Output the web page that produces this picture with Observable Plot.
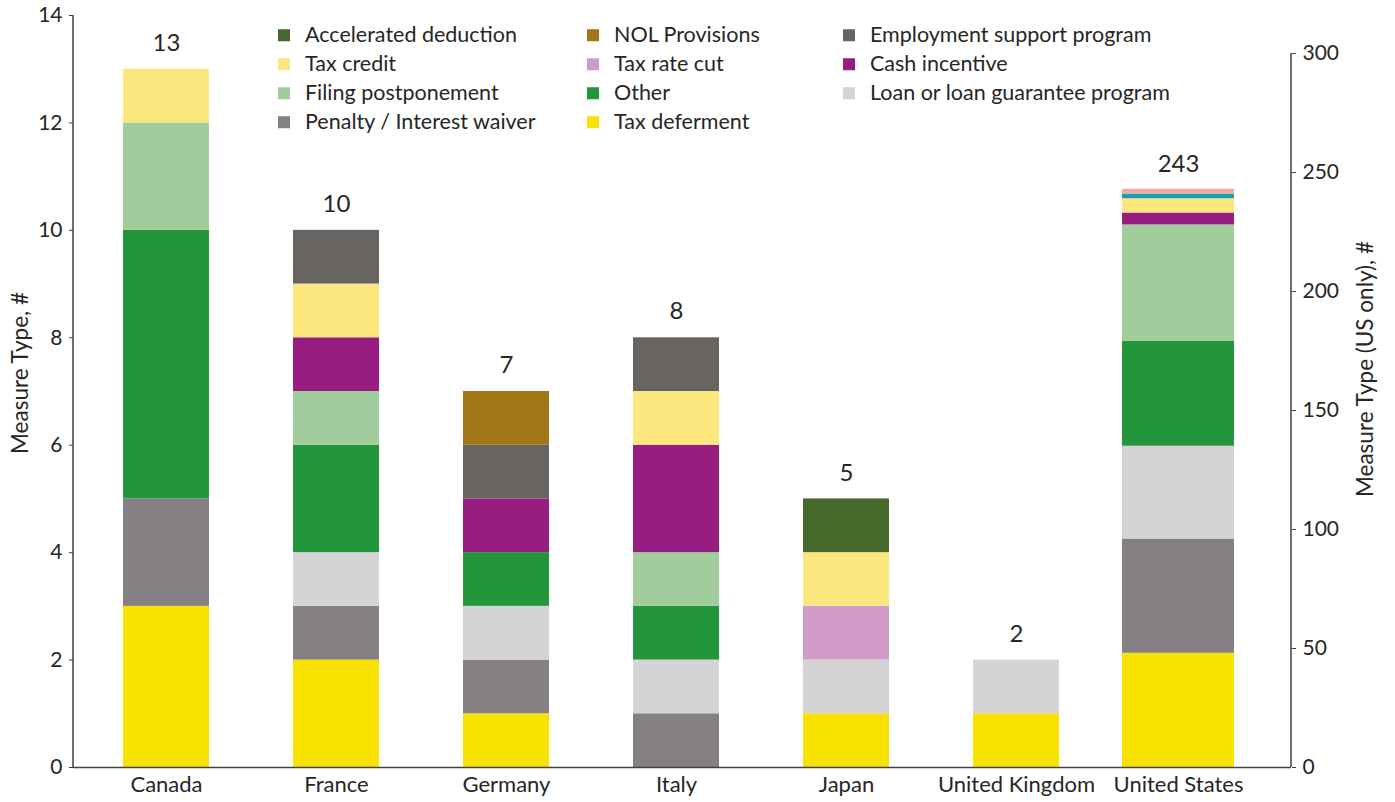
<!DOCTYPE html>
<html><head><meta charset="utf-8">
<script src="https://cdn.jsdelivr.net/npm/d3@7"></script>
<script src="https://cdn.jsdelivr.net/npm/@observablehq/plot@0.6"></script>
<style>
body{margin:0;background:#fff;font-family:Lato,"Open Sans",sans-serif;color:#262626}
#wrap{position:relative;width:1395px;height:802px;overflow:hidden}
.leg{position:absolute;font-size:21.5px;display:flex;align-items:center;white-space:nowrap;line-height:1;transform:translateY(-50%)}
.leg i{display:inline-block;width:12px;height:12px;margin-right:15px;flex:none}
.ytitle{position:absolute;font-size:22.5px;white-space:nowrap;transform:translate(-50%,-50%) rotate(-90deg)}
</style></head><body><div id="wrap"></div>
<script>
// ---- data ----
const countries = ["Canada","France","Germany","Italy","Japan","United Kingdom","United States"];
const types = ["Tax deferment","Penalty / Interest waiver","Loan or loan guarantee program","Other","Filing postponement","Cash incentive","Tax rate cut","Tax credit","Employment support program","NOL Provisions","Accelerated deduction","Unlisted measure A","Unlisted measure B"];
const typeColors = ["#F8E200","#858083","#D4D3D5","#23953A","#A1CD9D","#951E80","#D19BC9","#FBE77E","#676462","#A17618","#45692A","#1B9DB6","#F3AAA0"];
const taxDeferment   = [3,2,1,0,1,1,48];
const penaltyWaiver  = [2,1,1,1,0,0,48];
const loanProgram    = [0,1,1,1,1,1,39];
const otherMeasure   = [5,2,1,1,0,0,44];
const filingPostpone = [2,1,0,1,0,0,49];
const cashIncentive  = [0,1,1,2,0,0,5];
const taxRateCut     = [0,0,0,0,1,0,0];
const taxCredit      = [1,1,0,1,1,0,6];
const employmentSupp = [0,1,1,1,0,0,0];
const nolProvisions  = [0,0,1,0,0,0,0];
const accelDeduction = [0,0,0,0,1,0,0];
const unlistedA      = [0,0,0,0,0,0,2];
const unlistedB      = [0,0,0,0,0,0,2];
const seriesValues = [taxDeferment,penaltyWaiver,loanProgram,otherMeasure,filingPostpone,cashIncentive,taxRateCut,taxCredit,employmentSupp,nolProvisions,accelDeduction,unlistedA,unlistedB];
const legendColumns = [
  ["Accelerated deduction","Tax credit","Filing postponement","Penalty / Interest waiver"],
  ["NOL Provisions","Tax rate cut","Other","Tax deferment"],
  ["Employment support program","Cash incentive","Loan or loan guarantee program"]
];
const leftTicks = [0,2,4,6,8,10,12,14];
const rightTicks = [0,50,100,150,200,250,300];
const secondaryCountry = "United States";
const leftTop = 14;
const rightTop = 316; // right-axis value at the top of the plot area

// ---- build ----
const k = rightTop / leftTop;
const rows = [];
types.forEach((t, ti) => countries.forEach((c, ci) => {
  const v = seriesValues[ti][ci];
  if (v > 0) rows.push({country: c, type: t, raw: v, value: c === secondaryCountry ? v / k : v});
}));
const totals = countries.map((c, ci) => {
  const raw = d3.sum(seriesValues, s => s[ci]);
  return {country: c, total: raw, value: c === secondaryCountry ? raw / k : raw};
});
const primary = rows.filter(d => d.country !== secondaryCountry);
const secondary = rows.filter(d => d.country === secondaryCountry);

const txt = "#262626", axisCol = "#404040";
const chart = Plot.plot({
  width: 1395, height: 802,
  marginTop: 15, marginBottom: 35, marginLeft: 73, marginRight: 104,
  style: {fontFamily: "Lato, 'Open Sans', sans-serif", fontSize: "21px", color: txt, background: "#fff"},
  x: {domain: countries, paddingInner: 0.4953, paddingOuter: 0.3216, align: 0.447, label: null},
  y: {domain: [0, leftTop], label: null},
  color: {domain: types, range: typeColors},
  marks: [
    Plot.barY(primary, {x: "country", y: "value", fill: "type", order: types}),
    Plot.barY(secondary, {x: "country", y: "value", fill: "type", order: types, insetLeft: -21, insetRight: -5}),
    Plot.text(totals.filter(d => d.country !== secondaryCountry), {x: "country", y: "value", text: d => String(d.total), dy: -26, fontSize: 24, fill: txt}),
    Plot.text(totals.filter(d => d.country === secondaryCountry), {x: "country", y: "value", text: d => String(d.total), dy: -25, dx: -8, fontSize: 24, fill: txt}),
    Plot.ruleY([0], {stroke: axisCol, strokeWidth: 1.5}),
    Plot.axisY({ticks: leftTicks, tickSize: 4, tickPadding: 7, label: null, stroke: axisCol, fill: txt, fontSize: 21}),
    Plot.axisY({anchor: "right", ticks: rightTicks.map(t => t / k), tickFormat: d => String(Math.round(d * k)), tickSize: 4, tickPadding: 7, label: null, stroke: axisCol, fill: txt, fontSize: 21}),
    Plot.axisX({ticks: countries.filter(c => c !== secondaryCountry), tickSize: 0, tickPadding: 9, label: null, fill: txt, fontSize: 22}),
    Plot.axisX({ticks: [secondaryCountry], tickSize: 0, tickPadding: 9, dx: -8, label: null, fill: txt, fontSize: 22})
  ]
});

// axis lines drawn from the scales
const ys = chart.scale("y"), xs = chart.scale("x");
const [xL, xR] = xs.range;
const svg = d3.select(chart);
svg.append("line").attr("x1", xL).attr("x2", xL).attr("y1", ys.apply(leftTop)).attr("y2", ys.apply(0)).attr("stroke", axisCol).attr("stroke-width", 1.5);
svg.append("line").attr("x1", xR).attr("x2", xR).attr("y1", ys.apply(rightTicks[rightTicks.length - 1] / k)).attr("y2", ys.apply(0)).attr("stroke", axisCol).attr("stroke-width", 1.5);

const wrap = document.getElementById("wrap");
wrap.appendChild(chart);

// legend overlay
const colLeft = [278, 587, 843], rowTop = 35, rowStep = 29;
legendColumns.forEach((col, c) => col.forEach((name, r) => {
  const el = document.createElement("div");
  el.className = "leg";
  el.style.left = colLeft[c] + "px";
  el.style.top = (rowTop + r * rowStep) + "px";
  const sw = document.createElement("i");
  sw.style.background = typeColors[types.indexOf(name)];
  el.appendChild(sw);
  el.appendChild(document.createTextNode(name));
  wrap.appendChild(el);
}));

// axis titles
const t1 = document.createElement("div");
t1.className = "ytitle"; t1.textContent = "Measure Type, #";
t1.style.left = "19px"; t1.style.top = "373px";
wrap.appendChild(t1);
const t2 = document.createElement("div");
t2.className = "ytitle"; t2.textContent = "Measure Type (US only), #";
t2.style.left = "1364px"; t2.style.top = "369px";
wrap.appendChild(t2);
</script></body></html>
